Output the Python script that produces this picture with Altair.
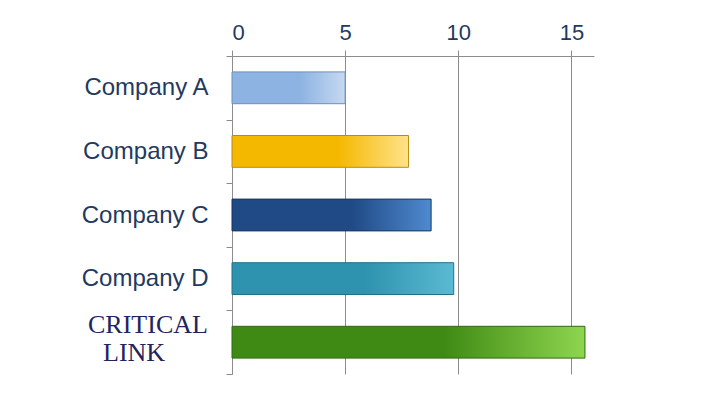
import altair as alt
import pandas as pd

companies = ["Company A", "Company B", "Company C", "Company D", "Critical Link"]
values = [5, 7.8, 8.8, 9.8, 15.6]
tick_values = [0, 5, 10, 15]

df = pd.DataFrame({"company": companies, "value": values})

gradients = {
    "Company A": ("#8DB3E2", "#C6D9F1", "#6F8FBF"),
    "Company B": ("#F5B800", "#FFE38A", "#B88C10"),
    "Company C": ("#1F4A85", "#4F8AD0", "#17375E"),
    "Company D": ("#2E93AE", "#5BBAD3", "#21708A"),
    "Critical Link": ("#3F8A14", "#8ED64F", "#2F6A10"),
}

label_color = "#1F3A5F"
xscale = alt.Scale(domain=[0, 16], nice=False)
yscale = alt.Scale(domain=companies, paddingInner=0, paddingOuter=0)

xaxis = alt.Axis(
    orient="top", values=tick_values, grid=True, gridColor="#8C8C8C",
    domainColor="#8C8C8C", tickColor="#8C8C8C", tickSize=6,
    labelFontSize=22, labelColor=label_color, labelFont="Liberation Sans",
    labelPadding=6, title=None)
yaxis = alt.Axis(
    orient="left", ticks=True, tickBand="extent", tickSize=6, tickColor="#8C8C8C",
    domainColor="#8C8C8C",
    labelFontSize=24, labelColor=label_color, labelFont="Liberation Sans",
    labelPadding=18, title=None,
    labelExpr="datum.label == 'Critical Link' ? '' : datum.label")

xenc = alt.X("value:Q", scale=xscale, axis=xaxis)
yenc = alt.Y("company:N", scale=yscale, sort=companies, axis=yaxis)

layers = []
for c in companies:
    c0, c1, cs = gradients[c]
    layers.append(
        alt.Chart(df).transform_filter(alt.datum.company == c).mark_bar(
            height=alt.RelativeBandSize(0.5),
            fill=alt.Gradient(gradient="linear", x1=0, x2=1, y1=0, y2=0,
                              stops=[alt.GradientStop(offset=0, color=c0),
                                     alt.GradientStop(offset=0.6, color=c0),
                                     alt.GradientStop(offset=1, color=c1)]),
            stroke=cs, strokeWidth=1
        ).encode(x=xenc, y=yenc)
    )

logo = df[df.company == "Critical Link"]
navy = "#23235E"


def logo_text(txt, size, dx, dy):
    return alt.Chart(logo).mark_text(
        text=txt, font="Liberation Serif", fontSize=size, color=navy,
        align="left", baseline="alphabetic", yOffset=dy
    ).encode(x=alt.value(dx), y=yenc)


logo_layers = [
    logo_text("CRITICAL", 26, -144, -9),
    logo_text("LINK", 26, -129, 19),
]

chart = alt.layer(*layers, *logo_layers).properties(
    width=362, height=318, autosize="none", background="white",
    padding={"left": 224, "top": 48, "right": 110, "bottom": 35}
).configure_view(stroke=None)

chart.save("out.html", embed_options={"renderer": "svg", "actions": False})
